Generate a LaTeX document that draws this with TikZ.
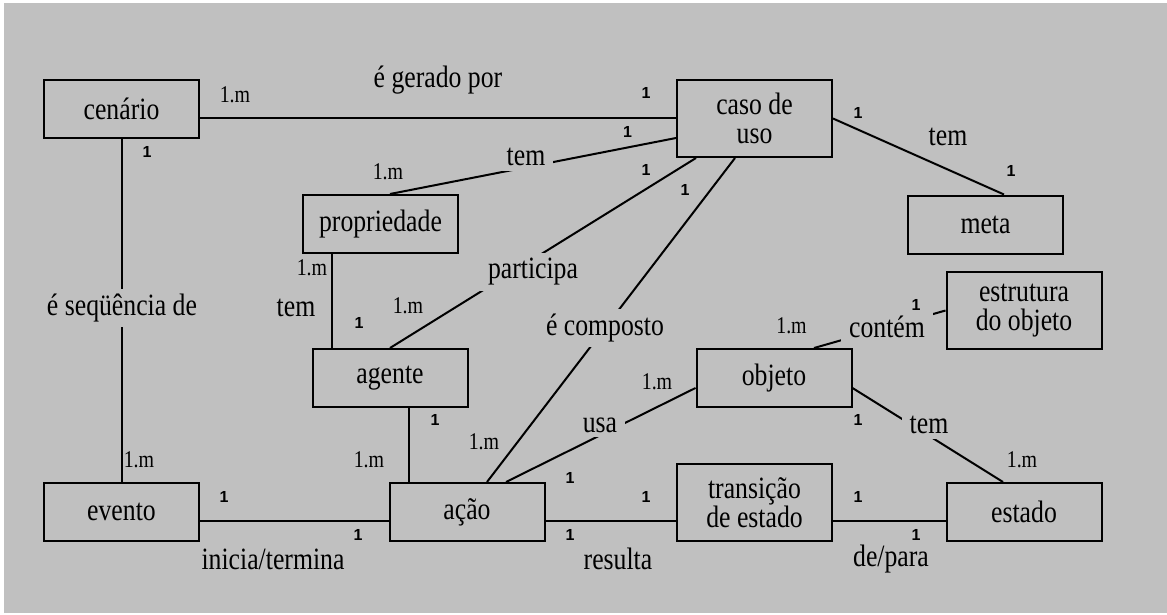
\documentclass[tikz,border=0pt]{standalone}
\usepackage{fontspec}
\usepackage{tikz}
\usepackage{xcolor}
\setmainfont{Liberation Serif}[FakeStretch=0.83]
\newfontfamily\cardfont{Liberation Sans}
\definecolor{panel-gray}{RGB}{192,192,192}
\tikzset{
    entity-box/.style = {draw, line width=2pt, rectangle, minimum width=155pt, minimum height=58pt, inner sep=0pt, align=center, font=\fontsize{31pt}{29.5pt}\selectfont},
    entity-box-tall/.style = {entity-box, minimum height=77pt},
    rel-link/.style = {line width=2pt},
    rel-label/.style = {fill=panel-gray, inner xsep=8pt, inner ysep=5pt, font=\fontsize{31pt}{30pt}\selectfont},
    rel-note/.style = {inner sep=0pt, font=\fontsize{31pt}{30pt}\selectfont},
    card-many/.style = {inner sep=0pt, font=\fontsize{24pt}{26pt}\selectfont},
    card-one/.style = {inner sep=0pt, font=\cardfont\bfseries\fontsize{16pt}{18pt}\selectfont},
}
\begin{document}
\begin{tikzpicture}[x=1pt, y=-1pt]
\useasboundingbox (0,0) rectangle (1167,615);
\fill [panel-gray] (4,3) rectangle (1167,613);

\node [entity-box] (cenario) at (121.5,109) {cenário};
\node [entity-box-tall] (caso) at (754.5,118.5) {caso de\\uso};
\node [entity-box] (propriedade) at (380.5,224) {propriedade};
\node [entity-box] (meta) at (985.5,224.5) {meta};
\node [entity-box-tall] (estrutura) at (1024,310.5) {estrutura\\do objeto};
\node [entity-box] (agente) at (390,378) {agente};
\node [entity-box] (objeto) at (774,378) {objeto};
\node [entity-box] (evento) at (121.5,512) {evento};
\node [entity-box] (acao) at (467,512) {ação};
\node [entity-box-tall] (transicao) at (754.5,502.5) {transição\\de estado};
\node [entity-box] (estado) at (1024,512) {estado};

\draw [rel-link] (cenario.east |- caso.west) -- (caso.west);
\draw [rel-link] ([yshift=-19.5pt]caso.west) -- ([xshift=9.5pt]propriedade.north);
\draw [rel-link] ([xshift=20pt]caso.south west) -- (agente.north);
\draw [rel-link] ([xshift=-19.5pt]caso.south) -- ([xshift=20pt]acao.north);
\draw [rel-link] (caso.east) -- ([xshift=18.5pt]meta.north);
\draw [rel-link] (cenario.south) -- (evento.north);
\draw [rel-link] ([xshift=-48.5pt]propriedade.south) -- ([xshift=-58pt]agente.north);
\draw [rel-link] ([xshift=19pt]agente.south) -- ([xshift=-58pt]acao.north);
\draw [rel-link] ([xshift=39pt]acao.north) -- ([yshift=-10pt]objeto.west);
\draw [rel-link] ([xshift=40pt]objeto.north) -- (estrutura.west);
\draw [rel-link] ([yshift=-10pt]objeto.east) -- ([xshift=-21pt]estado.north);
\draw [rel-link] ([yshift=-9pt]evento.east) -- ([yshift=-9pt]acao.west);
\draw [rel-link] ([yshift=-9pt]acao.east) -- ([yshift=-18.5pt]transicao.west);
\draw [rel-link] ([yshift=-18.5pt]transicao.east) -- ([yshift=-9pt]estado.west);

\node [rel-note] (gerado) at (438,80) {é gerado por};
\node [rel-label] (tem-prop) at (526,157) {tem};
\node [rel-label] (participa) at (533,272) {participa};
\node [rel-label] (composto) at (605,328) {é composto};
\node [rel-label] (usa) at (600,425) {usa};
\node [rel-label] (contem) at (887,327) {contém};
\node [rel-label] (tem-estado) at (929,425) {tem};
\node [rel-note] (tem-meta) at (948,137) {tem};
\node [rel-label] (sequencia) at (122,308) {é seqüência de};
\node [rel-note] (tem-agente) at (296,308) {tem};
\node [rel-note] (inicia) at (273,559) {inicia/termina};
\node [rel-note] (resulta) at (618,559) {resulta};
\node [rel-note] (depara) at (891,559) {de/para};

\node [card-many] (m-cenario) at (235,95) {1.m};
\node [card-one] (o-caso-a) at (646,93) {1};
\node [card-one] (o-caso-b) at (627.5,132) {1};
\node [card-many] (m-prop-a) at (388,172) {1.m};
\node [card-one] (o-caso-c) at (646,170) {1};
\node [card-one] (o-caso-d) at (685,190) {1};
\node [card-many] (m-agente) at (408,306) {1.m};
\node [card-one] (o-caso-e) at (858,113) {1};
\node [card-one] (o-meta) at (1011,171) {1};
\node [card-one] (o-cenario) at (147,152) {1};
\node [card-many] (m-evento) at (139,460) {1.m};
\node [card-many] (m-prop-b) at (312,268) {1.m};
\node [card-one] (o-agente-a) at (359,323) {1};
\node [card-one] (o-agente-b) at (435,420) {1};
\node [card-many] (m-acao-a) at (369,460) {1.m};
\node [card-many] (m-acao-b) at (484,442) {1.m};
\node [card-one] (o-acao-a) at (570,478) {1};
\node [card-many] (m-objeto-a) at (657,382) {1.m};
\node [card-many] (m-objeto-b) at (791.5,326) {1.m};
\node [card-one] (o-estrutura) at (916,305) {1};
\node [card-one] (o-objeto) at (858,420) {1};
\node [card-many] (m-estado) at (1022,460) {1.m};
\node [card-one] (o-evento) at (224,497) {1};
\node [card-one] (o-acao-b) at (358,535) {1};
\node [card-one] (o-acao-c) at (570,535) {1};
\node [card-one] (o-trans-a) at (646,497) {1};
\node [card-one] (o-trans-b) at (858,497) {1};
\node [card-one] (o-estado) at (916,535) {1};
\end{tikzpicture}
\end{document}
